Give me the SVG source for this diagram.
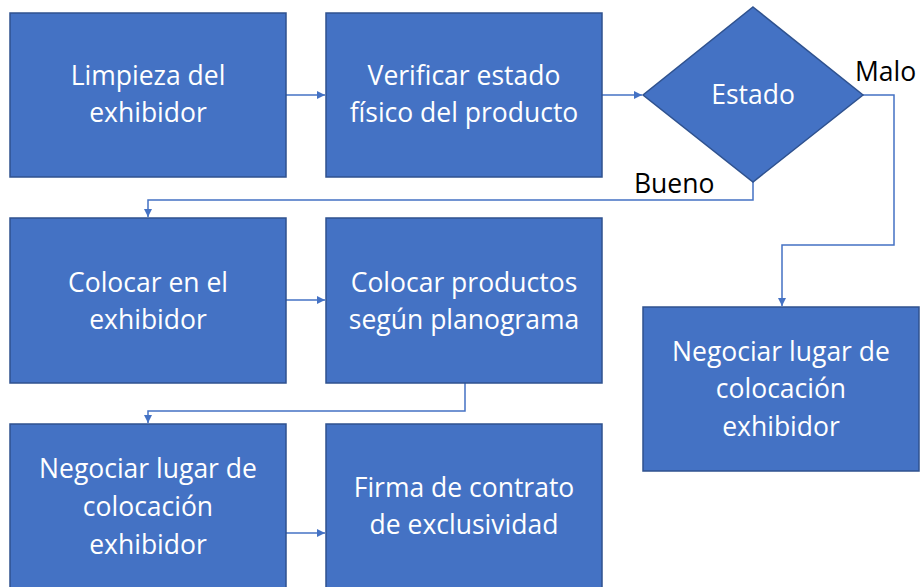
<svg xmlns="http://www.w3.org/2000/svg" width="922" height="587" viewBox="0 0 922 587">
<style>
.box{fill:#4472C4;stroke:#2F528F;stroke-width:1.5}
.t{font-family:"Open Sans","Liberation Sans",Arial,sans-serif;font-size:26.5px;fill:#FFFFFF;text-anchor:middle}
.lbl{font-family:"Open Sans","Liberation Sans",Arial,sans-serif;font-size:26.5px;fill:#000000}
.c{fill:none;stroke:#4472C4;stroke-width:1.5;marker-end:url(#ah)}
</style>
<defs>
<marker id="ah" viewBox="0 0 10 10" refX="10" refY="5" markerWidth="8" markerHeight="8" markerUnits="userSpaceOnUse" orient="auto">
<path d="M0,0 L10,5 L0,10 z" fill="#4472C4"/>
</marker>
</defs>
<rect width="922" height="587" fill="#FFFFFF"/>
<g id="connectors">
<path class="c" d="M286,95 H325"/>
<path class="c" d="M602,95 H642"/>
<path class="c" d="M753,182 V200 H148 V217"/>
<path class="c" d="M863,95 H894 V245 H782 V306"/>
<path class="c" d="M286,300 H325"/>
<path class="c" d="M465,383 V411 H148 V423"/>
<path class="c" d="M286,533 H325"/>
</g>
<g id="n1"><rect class="box" x="10" y="13" width="276" height="164"/>
<text class="t" x="148" y="85">Limpieza del</text><text class="t" x="148" y="122">exhibidor</text></g>
<g id="n2"><rect class="box" x="326" y="13" width="276" height="164"/>
<text class="t" x="464" y="85">Verificar estado</text><text class="t" x="464" y="122">físico del producto</text></g>
<g id="n3"><polygon class="box" points="753,7 863,95 753,182 643,95"/>
<text class="t" x="753" y="104">Estado</text></g>
<g id="n4"><rect class="box" x="10" y="218" width="276" height="165"/>
<text class="t" x="148" y="292">Colocar en el</text><text class="t" x="148" y="329">exhibidor</text></g>
<g id="n5"><rect class="box" x="326" y="218" width="276" height="165"/>
<text class="t" x="464" y="292">Colocar productos</text><text class="t" x="464" y="329">según planograma</text></g>
<g id="n6"><rect class="box" x="643" y="307" width="276" height="164"/>
<text class="t" x="781" y="361">Negociar lugar de</text><text class="t" x="781" y="398">colocación</text><text class="t" x="781" y="436">exhibidor</text></g>
<g id="n7"><rect class="box" x="10" y="424" width="276" height="170"/>
<text class="t" x="148" y="478">Negociar lugar de</text><text class="t" x="148" y="516">colocación</text><text class="t" x="148" y="554">exhibidor</text></g>
<g id="n8"><rect class="box" x="326" y="424" width="276" height="170"/>
<text class="t" x="464" y="497">Firma de contrato</text><text class="t" x="464" y="534">de exclusividad</text></g>
<g id="labels">
<text class="lbl" x="855" y="81">Malo</text>
<text class="lbl" x="634" y="193">Bueno</text>
</g>
</svg>
